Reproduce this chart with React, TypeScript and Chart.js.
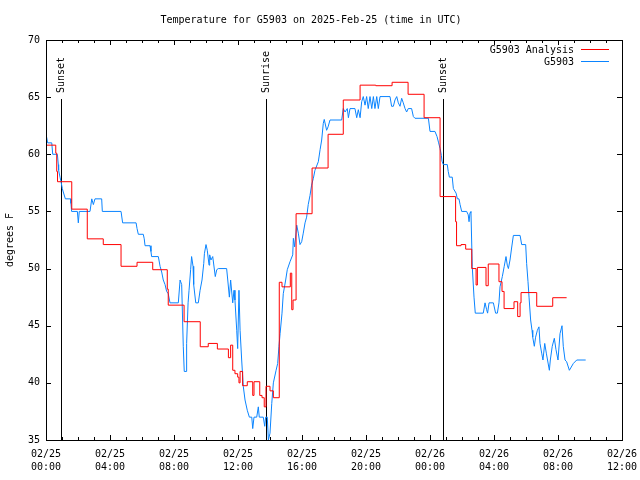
import { useEffect, useRef } from 'react';
import { Chart, registerables } from 'chart.js';

Chart.register(...registerables);

const FONT = "'DejaVu Sans Mono', 'Liberation Mono', monospace";

const TITLE = 'Temperature for G5903 on 2025-Feb-25 (time in UTC)';
const Y_TITLE = 'degrees F';
const SERIES_LABELS = ['G5903 Analysis', 'G5903'];
const SERIES_COLORS = ['#ff0000', '#0a84ff'];

// x tick labels (every 4 hours from 02/25 00:00)
const xTickDates = ['02/25', '02/25', '02/25', '02/25', '02/25', '02/25', '02/26', '02/26', '02/26', '02/26'];
const xTickTimes = ['00:00', '04:00', '08:00', '12:00', '16:00', '20:00', '00:00', '04:00', '08:00', '12:00'];
const yTicks = [35, 40, 45, 50, 55, 60, 65, 70];

// sun events (hours since 02/25 00:00 UTC)
const eventNames = ['Sunset', 'Sunrise', 'Sunset'];
const eventHours = [0.92, 13.73, 24.83];

// [hours since 02/25 00:00, degrees F]
const analysisPoints: [number, number][] = [
  [0, 60.8], [0.61, 60.1], [0.67, 58.5], [0.72, 57.6], [1.61, 55.2], [2.58, 52.6], [3.58, 52.1],
  [4.69, 50.2], [5.69, 50.55], [6.67, 49.9], [7.58, 48.2], [7.64, 46.8], [8.63, 45.35], [9.64, 43.16],
  [10.14, 43.45], [10.71, 42.96], [11.4, 42.2], [11.54, 43.3], [11.67, 41.1], [11.81, 40.8], [11.98, 40.5],
  [12.06, 40.0], [12.13, 41.0], [12.29, 39.75], [12.58, 40.1], [12.92, 38.9], [13.0, 40.1], [13.36, 38.9],
  [13.5, 38.7], [13.64, 37.9], [13.75, 39.7], [14.0, 39.3], [14.21, 38.7], [14.58, 48.8], [14.75, 48.4],
  [15.27, 49.6], [15.36, 46.4], [15.44, 47.25], [15.63, 54.8], [16.63, 58.8], [17.63, 61.75], [18.58, 64.75],
  [19.63, 66.05], [20.61, 66.0], [21.63, 66.3], [22.63, 65.25], [23.63, 63.2], [24.63, 56.3], [25.6, 54.1],
  [25.66, 52.0], [25.94, 52.1], [26.23, 51.7], [26.61, 50.0], [26.88, 48.56], [26.96, 50.1], [27.5, 48.5],
  [27.64, 50.4], [28.31, 48.85], [28.5, 48.0], [28.63, 46.5], [29.25, 47.1], [29.48, 45.8], [29.63, 47.0],
  [29.69, 47.9], [30.67, 46.7], [31.67, 47.45], [32.54, 47.45],
];

const observedPoints: [number, number][] = [
  [0.04, 61.5], [0.1, 61.0], [0.36, 61.0], [0.42, 60.0], [0.71, 60.0], [0.77, 59.1], [0.79, 58.6],
  [0.875, 58.0], [0.94, 57.6], [1.02, 57.0], [1.08, 56.7], [1.21, 56.1], [1.54, 56.1], [1.56, 55.7],
  [1.6, 55.0], [1.96, 55.0], [2.02, 54.0], [2.08, 55.0], [2.75, 55.0], [2.86, 56.1], [2.96, 55.6],
  [3.06, 56.1], [3.48, 56.1], [3.52, 55.0], [4.69, 55.0], [4.79, 54.0], [5.63, 54.0], [5.69, 53.5],
  [5.77, 53.0], [6.08, 53.0], [6.14, 52.6], [6.19, 52.0], [6.5, 52.0], [6.56, 51.5], [6.6, 51.05],
  [7.02, 51.05], [7.13, 50.2], [7.23, 49.7], [7.33, 49.0], [7.44, 48.6], [7.54, 48.0], [7.64, 47.8],
  [7.75, 47.0], [8.27, 47.0], [8.38, 49.0], [8.48, 48.6], [8.58, 43.2], [8.64, 41.0], [8.75, 41.0],
  [8.79, 43.45], [8.88, 47.0], [8.94, 48.1], [9.04, 49.9], [9.1, 51.05], [9.19, 50.2], [9.23, 48.6],
  [9.36, 47.0], [9.52, 47.0], [9.63, 48.1], [9.75, 49.0], [9.86, 50.45], [9.9, 51.3], [10.0, 52.1],
  [10.08, 51.6], [10.19, 50.3], [10.23, 51.2], [10.31, 50.75], [10.42, 51.05], [10.58, 49.3], [10.67, 49.9],
  [10.77, 50.0], [11.29, 50.0], [11.36, 49.0], [11.46, 47.5], [11.54, 49.0], [11.67, 47.0], [11.75, 48.1],
  [11.81, 47.25], [11.92, 44.6], [11.98, 43.0], [12.06, 48.1], [12.13, 44.6], [12.23, 42.0], [12.33, 39.7],
  [12.44, 38.5], [12.58, 37.6], [12.71, 37.0], [12.86, 37.0], [12.92, 36.0], [13.0, 37.0], [13.17, 37.0],
  [13.27, 37.9], [13.33, 37.0], [13.58, 37.0], [13.67, 36.2], [13.73, 37.0], [13.83, 37.0], [13.9, 35.0],
  [14.0, 35.6], [14.11, 38.2], [14.21, 40.0], [14.38, 41.1], [14.48, 41.7], [14.56, 43.2], [14.63, 44.3],
  [14.75, 46.1], [14.83, 47.8], [14.98, 49.0], [15.08, 49.9], [15.25, 50.6], [15.42, 51.2], [15.46, 52.65],
  [15.54, 51.9], [15.67, 53.8], [15.77, 53.1], [15.875, 52.1], [15.98, 52.35], [16.08, 53.1], [16.19, 54.0],
  [16.29, 54.5], [16.39, 55.6], [16.5, 56.4], [16.6, 57.3], [16.71, 57.9], [16.81, 58.6], [17.02, 59.35],
  [17.13, 60.4], [17.23, 61.25], [17.33, 62.7], [17.39, 63.05], [17.54, 62.1], [17.63, 62.4], [17.75, 63.0],
  [18.48, 63.0], [18.58, 64.0], [18.69, 63.7], [18.83, 64.0], [18.9, 63.2], [19.0, 64.0], [19.31, 64.0],
  [19.42, 63.2], [19.52, 63.9], [19.63, 63.2], [19.73, 64.6], [19.83, 65.05], [19.94, 64.3], [20.04, 65.05],
  [20.14, 64.0], [20.25, 65.05], [20.36, 64.0], [20.46, 65.05], [20.56, 64.0], [20.67, 65.05], [20.77, 64.0],
  [20.875, 65.05], [21.5, 65.05], [21.6, 64.2], [21.71, 64.2], [21.81, 64.75], [21.92, 65.05], [22.02, 64.5],
  [22.125, 64.2], [22.23, 64.9], [22.33, 64.5], [22.44, 64.0], [22.54, 63.7], [22.64, 64.0], [22.85, 64.0],
  [22.96, 63.3], [23.06, 63.15], [23.9, 63.15], [24.0, 62.0], [24.31, 62.0], [24.44, 61.55], [24.54, 61.0],
  [24.63, 60.5], [24.71, 59.9], [24.75, 59.4], [24.83, 59.1], [25.08, 59.1], [25.14, 58.5], [25.21, 58.0],
  [25.39, 58.0], [25.46, 57.0], [25.63, 56.6], [25.71, 56.1], [25.81, 56.1], [25.88, 55.6], [25.98, 55.0],
  [26.29, 55.0], [26.39, 54.7], [26.44, 54.1], [26.5, 54.9], [26.56, 55.0], [26.64, 50.2], [26.75, 47.5],
  [26.83, 46.1], [27.33, 46.1], [27.44, 47.0], [27.54, 46.4], [27.6, 46.1], [27.69, 47.0], [27.96, 47.0],
  [28.1, 46.1], [28.21, 46.1], [28.31, 47.0], [28.375, 48.4], [28.52, 49.3], [28.64, 50.2], [28.75, 51.05],
  [28.83, 50.3], [28.9, 50.0], [29.0, 50.75], [29.1, 51.8], [29.21, 52.9], [29.63, 52.9], [29.73, 52.1],
  [29.98, 52.1], [30.04, 50.45], [30.125, 48.85], [30.19, 47.5], [30.29, 45.5], [30.375, 44.6], [30.42, 44.0],
  [30.52, 43.2], [30.6, 44.0], [30.71, 44.6], [30.81, 44.9], [30.875, 43.45], [30.98, 42.6], [31.06, 42.0],
  [31.17, 43.45], [31.27, 42.6], [31.46, 41.1], [31.52, 42.0], [31.64, 43.2], [31.77, 43.9], [31.875, 42.9],
  [32.0, 42.0], [32.125, 44.3], [32.25, 45.0], [32.33, 43.2], [32.44, 42.0], [32.54, 41.85], [32.71, 41.1],
  [32.96, 41.7], [33.17, 42.0], [33.73, 42.0],
];

const framePlugin = {
  id: 'gnuframe',
  beforeDatasetsDraw(chart: any) {
    const { ctx, chartArea: a, scales } = chart;
    const x = scales.x;
    ctx.save();
    ctx.strokeStyle = '#000';
    ctx.fillStyle = '#000';
    ctx.lineWidth = 1;
    ctx.font = `10px ${FONT}`;
    eventHours.forEach((h, i) => {
      const px = Math.round(x.getPixelForValue(h)) + 0.5;
      ctx.beginPath();
      ctx.moveTo(px, a.top + 59);
      ctx.lineTo(px, a.bottom);
      ctx.stroke();
      ctx.save();
      ctx.translate(px, a.top + 53);
      ctx.rotate(-Math.PI / 2);
      ctx.textAlign = 'left';
      ctx.textBaseline = 'middle';
      ctx.fillText(eventNames[i], 0, 0);
      ctx.restore();
    });
    ctx.restore();
  },
  afterDatasetsDraw(chart: any) {
    const { ctx, chartArea: a, scales } = chart;
    const x = scales.x;
    const y = scales.y;
    ctx.save();
    ctx.strokeStyle = '#000';
    ctx.lineWidth = 1;
    ctx.strokeRect(Math.round(a.left) + 0.5, Math.round(a.top) + 0.5, Math.round(a.right - a.left), Math.round(a.bottom - a.top));
    ctx.beginPath();
    for (let h = 1; h < 36; h++) {
      const px = Math.round(x.getPixelForValue(h)) + 0.5;
      const len = h % 4 === 0 ? 5 : 3;
      ctx.moveTo(px, a.bottom);
      ctx.lineTo(px, a.bottom - len);
      ctx.moveTo(px, a.top);
      ctx.lineTo(px, a.top + len);
    }
    yTicks.forEach((v) => {
      if (v === yTicks[0] || v === yTicks[yTicks.length - 1]) return;
      const py = Math.round(y.getPixelForValue(v)) + 0.5;
      ctx.moveTo(a.left, py);
      ctx.lineTo(a.left + 5, py);
      ctx.moveTo(a.right, py);
      ctx.lineTo(a.right - 5, py);
    });
    ctx.stroke();

    // legend (top right, inside)
    ctx.font = `10px ${FONT}`;
    ctx.textAlign = 'right';
    ctx.textBaseline = 'middle';
    chart.data.datasets.forEach((ds: any, i: number) => {
      const ly = Math.round(a.top + 9 + i * 12) + 0.5;
      ctx.fillStyle = '#000';
      ctx.fillText(ds.label, a.right - 48, ly + 1);
      ctx.strokeStyle = SERIES_COLORS[i];
      ctx.beginPath();
      ctx.moveTo(a.right - 41, ly);
      ctx.lineTo(a.right - 13, ly);
      ctx.stroke();
    });
    ctx.restore();
  },
};

export default function App() {
  const ref = useRef<HTMLCanvasElement>(null);
  useEffect(() => {
    if (!ref.current) return;
    Chart.defaults.font.family = FONT;
    Chart.defaults.font.size = 10;
    Chart.defaults.color = '#000';
    const chart = new Chart(ref.current, {
      type: 'line',
      data: {
        datasets: [
          {
            label: SERIES_LABELS[0],
            data: analysisPoints.map(([h, t]) => ({ x: h, y: t })),
            borderColor: SERIES_COLORS[0],
            borderWidth: 1,
            pointRadius: 0,
            stepped: 'before',
            tension: 0,
          },
          {
            label: SERIES_LABELS[1],
            data: observedPoints.map(([h, t]) => ({ x: h, y: t })),
            borderColor: SERIES_COLORS[1],
            borderWidth: 1,
            pointRadius: 0,
            tension: 0,
          },
        ],
      },
      options: {
        animation: false,
        responsive: false,
        devicePixelRatio: 1,
        layout: { padding: { left: 0, right: 18, top: 0, bottom: 0 } },
        plugins: {
          legend: { display: false },
          tooltip: { enabled: false },
          title: {
            display: true,
            text: TITLE,
            color: '#000',
            font: { size: 10, family: FONT, weight: 'normal', lineHeight: 1.2 },
            padding: { top: 14, bottom: 14 },
          },
        },
        scales: {
          x: {
            type: 'linear',
            min: 0,
            max: 36,
            grid: { display: false, drawTicks: false },
            border: { display: false },
            ticks: {
              stepSize: 4,
              autoSkip: false,
              maxRotation: 0,
              minRotation: 0,
              padding: 8,
              color: '#000',
              font: { size: 10, family: FONT, lineHeight: 1.3 },
              callback: (value: any) => {
                const i = Math.round(Number(value) / 4);
                return [xTickDates[i], xTickTimes[i]];
              },
            },
            afterFit: (s: any) => {
              s.height = 40;
              s.paddingLeft = 0;
              s.paddingRight = 0;
            },
          },
          y: {
            type: 'linear',
            min: 35,
            max: 70,
            grid: { display: false, drawTicks: false },
            border: { display: false },
            title: {
              display: true,
              text: Y_TITLE,
              color: '#000',
              font: { size: 10, family: FONT, lineHeight: 1.2 },
              padding: { top: 4, bottom: 4 },
            },
            ticks: {
              stepSize: 5,
              padding: 6,
              color: '#000',
              font: { size: 10, family: FONT },
              callback: (value: any) => String(value),
            },
            afterFit: (s: any) => {
              s.width = 46;
              s.paddingTop = 0;
              s.paddingBottom = 0;
            },
          },
        },
      },
      plugins: [framePlugin],
    });
    return () => chart.destroy();
  }, []);
  return (
    <div style={{ position: 'fixed', left: 0, top: 0, width: 640, height: 480, background: '#fff' }}>
      <canvas ref={ref} width={640} height={480} style={{ width: 640, height: 480, display: 'block' }} />
    </div>
  );
}
